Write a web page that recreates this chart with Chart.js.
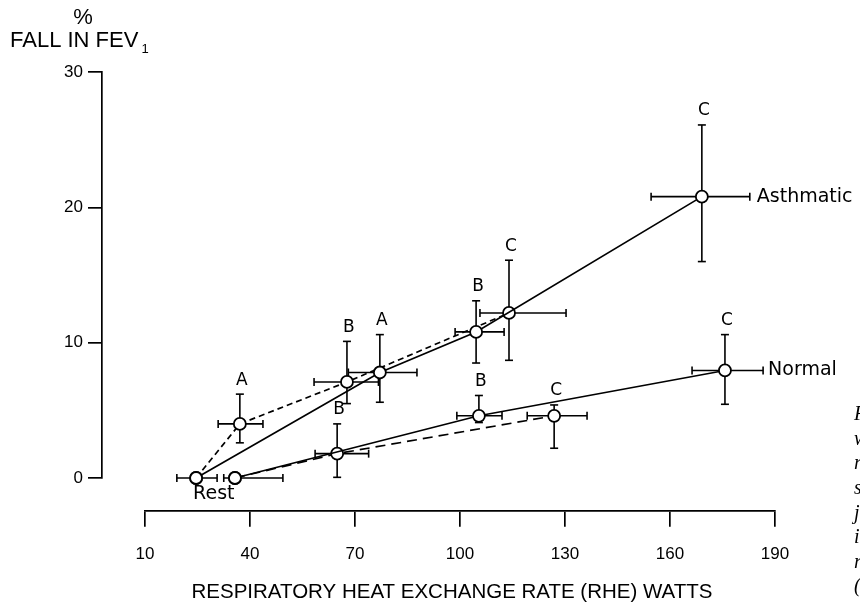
<!DOCTYPE html>
<html><head><meta charset="utf-8">
<script src="https://cdn.jsdelivr.net/npm/chart.js@4.4.1/dist/chart.umd.min.js"></script>
<style>html,body{margin:0;padding:0;background:#fff;}canvas{display:block;}</style>
</head><body>
<canvas id="c" width="860" height="603"></canvas>
<script>
// ---- data ----
const xTicks = [10, 40, 70, 100, 130, 160, 190];
const yTicks = [0, 10, 20, 30];

// Asthmatic, solid line (Rest, A, B, C)
const asthSolidX = [24.6, 77.1, 104.6, 169.1];
const asthSolidY = [0, 7.8, 10.8, 20.8];
const asthSolidXErr = [[5.5, 6.0], [9.0, 10.6], [6.0, 8.0], [14.5, 13.7]];
const asthSolidYErr = [[0, 0], [2.2, 2.8], [2.3, 2.3], [4.8, 5.3]];
const asthSolidTags = ['', 'A', 'B', 'C'];

// Asthmatic, dashed line (Rest, A, B, C)
const asthDashX = [24.6, 37.1, 67.7, 114.0];
const asthDashY = [0, 4.0, 7.1, 12.2];
const asthDashXErr = [[0, 0], [6.2, 6.6], [9.4, 9.0], [8.3, 16.3]];
const asthDashYErr = [[0, 0], [1.4, 2.2], [1.6, 3.0], [3.5, 3.9]];
const asthDashTags = ['', 'A', 'B', 'C'];

// Normal, solid line (Rest, B, C)
const normSolidX = [35.7, 105.4, 175.7];
const normSolidY = [0, 4.6, 7.95];
const normSolidXErr = [[3.2, 13.7], [6.3, 6.6], [9.4, 10.9]];
const normSolidYErr = [[0, 0], [0.5, 1.5], [2.5, 2.65]];
const normSolidTags = ['', 'B', 'C'];

// Normal, dashed line (Rest, B, C)
const normDashX = [35.7, 64.9, 126.9];
const normDashY = [0, 1.8, 4.6];
const normDashXErr = [[0, 0], [6.3, 9.0], [7.7, 9.4]];
const normDashYErr = [[0, 0], [1.75, 2.2], [2.4, 0.8]];
const normDashTags = ['', 'B', 'C'];

const FONT = '"DejaVu Sans", "Liberation Sans", sans-serif';
const FONT2 = '"Liberation Sans", Arial, sans-serif';

function pts(xs, ys) { return xs.map((v, i) => ({ x: v, y: ys[i] })); }

const series = [
  { x: asthSolidX, y: asthSolidY, xErr: asthSolidXErr, yErr: asthSolidYErr, tags: asthSolidTags, dash: [] },
  { x: asthDashX, y: asthDashY, xErr: asthDashXErr, yErr: asthDashYErr, tags: asthDashTags, dash: [6, 4] },
  { x: normSolidX, y: normSolidY, xErr: normSolidXErr, yErr: normSolidYErr, tags: normSolidTags, dash: [] },
  { x: normDashX, y: normDashY, xErr: normDashXErr, yErr: normDashYErr, tags: normDashTags, dash: [10, 6] }
];

const decor = {
  id: 'decor',
  beforeDatasetsDraw(chart) {
    const { ctx, scales: { x, y } } = chart;
    ctx.save();
    ctx.strokeStyle = '#000';
    ctx.lineWidth = 1.6;
    const seg = (a, b, c, d) => { ctx.beginPath(); ctx.moveTo(a, b); ctx.lineTo(c, d); ctx.stroke(); };
    const cap = 4;
    series.forEach(s => {
      s.x.forEach((xv, i) => {
        const px = x.getPixelForValue(xv), py = y.getPixelForValue(s.y[i]);
        const [xm, xp] = s.xErr[i], [ym, yp] = s.yErr[i];
        if (xm || xp) {
          const l = x.getPixelForValue(xv - xm), r = x.getPixelForValue(xv + xp);
          seg(l, py, r, py);
          if (xm) seg(l, py - cap, l, py + cap);
          if (xp) seg(r, py - cap, r, py + cap);
        }
        if (ym || yp) {
          const b = y.getPixelForValue(s.y[i] - ym), t = y.getPixelForValue(s.y[i] + yp);
          seg(px, b, px, t);
          if (ym) seg(px - cap, b, px + cap, b);
          if (yp) seg(px - cap, t, px + cap, t);
        }
      });
    });
    ctx.restore();
  },
  afterDraw(chart) {
    const { ctx, scales: { x, y } } = chart;
    ctx.save();
    ctx.fillStyle = '#000';
    ctx.textBaseline = 'middle';
    // A/B/C tags above error bars
    ctx.font = '17px ' + FONT;
    ctx.textAlign = 'center';
    series.forEach(s => {
      s.tags.forEach((t, i) => {
        if (!t) return;
        const px = x.getPixelForValue(s.x[i]);
        const pt = y.getPixelForValue(s.y[i] + s.yErr[i][1]);
        ctx.fillText(t, px + 2, pt - 14);
      });
    });
    // series names
    ctx.textAlign = 'left';
    ctx.font = '19px ' + FONT;
    const aLast = asthSolidX.length - 1;
    ctx.fillText('Asthmatic', x.getPixelForValue(asthSolidX[aLast] + asthSolidXErr[aLast][1]) + 7, y.getPixelForValue(asthSolidY[aLast]));
    const nLast = normSolidX.length - 1;
    ctx.fillText('Normal', x.getPixelForValue(normSolidX[nLast] + normSolidXErr[nLast][1]) + 5, y.getPixelForValue(normSolidY[nLast]));
    ctx.fillText('Rest', x.getPixelForValue(asthSolidX[0]) - 3, y.getPixelForValue(0) + 16);
    // y axis title
    ctx.font = '22px ' + FONT2;
    ctx.textAlign = 'center';
    ctx.fillText('%', 83, 18);
    ctx.textAlign = 'left';
    ctx.fillText('FALL IN FEV', 10, 41);
    const w = ctx.measureText('FALL IN FEV').width;
    ctx.font = '13px ' + FONT2;
    ctx.fillText('1', 10 + w + 3, 49);
    // x axis title
    ctx.font = '20.5px ' + FONT2;
    ctx.textAlign = 'center';
    ctx.fillText('RESPIRATORY HEAT EXCHANGE RATE (RHE) WATTS', 452, 592);
    // cut-off caption fragments at right edge
    ctx.font = 'italic 20px "Liberation Serif", serif';
    ctx.textAlign = 'left';
    const frag = ['F', 'w', 'r', 's', 'j', 'i', 'r', '('];
    frag.forEach((f, i) => ctx.fillText(f, 854, 415 + i * 24.6));
    ctx.restore();
  }
};

const lineDs = (s) => ({
  data: pts(s.x, s.y),
  showLine: true,
  borderColor: '#000',
  borderWidth: 1.7,
  borderDash: s.dash,
  pointRadius: 6,
  pointBackgroundColor: '#fff',
  pointBorderColor: '#000',
  pointBorderWidth: 1.8,
  clip: false
});

const axisColor = '#000';
new Chart(document.getElementById('c'), {
  type: 'scatter',
  data: { datasets: series.map(lineDs) },
  options: {
    responsive: false,
    animation: false,
    events: [],
    layout: { padding: { left: 64, right: 85, top: 63, bottom: 125 } },
    plugins: { legend: { display: false }, tooltip: { enabled: false } },
    scales: {
      x: {
        type: 'linear', min: 10, max: 190,
        position: { y: -2.4 },
        afterBuildTicks: s => { s.ticks = xTicks.map(v => ({ value: v })); },
        ticks: { color: '#000', font: { family: FONT2, size: 17 }, padding: 19 },
        grid: { drawOnChartArea: false, tickLength: 15, color: axisColor, lineWidth: 1.7 },
        border: { color: axisColor, width: 1.7 }
      },
      y: {
        type: 'linear', min: 0, max: 30,
        position: { x: -2.3 },
        afterBuildTicks: s => { s.ticks = yTicks.map(v => ({ value: v })); },
        ticks: { display: false },
        grid: { drawOnChartArea: false, tickLength: 13, color: axisColor, lineWidth: 1.7 },
        border: { color: axisColor, width: 1.7 }
      },
      yl: {
        type: 'linear', axis: 'y', position: 'left', min: 0, max: 30,
        afterBuildTicks: s => { s.ticks = yTicks.map(v => ({ value: v })); },
        ticks: { color: '#000', font: { family: FONT2, size: 17 }, padding: 62 },
        grid: { display: false, drawTicks: false },
        border: { display: false },
        afterFit: s => { s.width = 81; }
      }
    }
  },
  plugins: [decor]
});
</script>
</body></html>
